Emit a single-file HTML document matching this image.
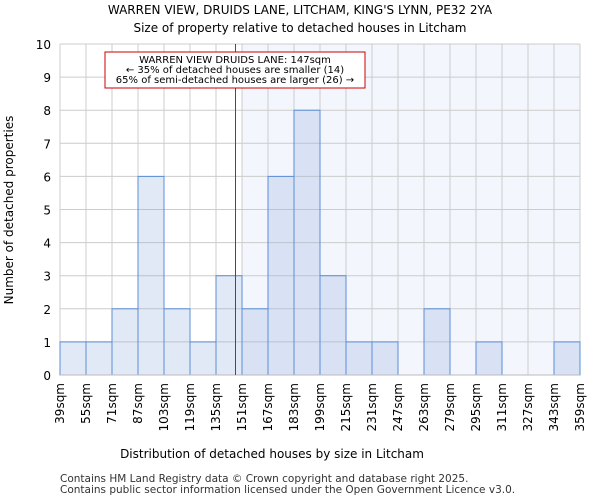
<!DOCTYPE html>
<html><head><meta charset="utf-8"><style>
body{margin:0;background:#fff;font-family:"DejaVu Sans","Liberation Sans",sans-serif}
</style></head><body>
<svg id="c" width="600" height="500" xmlns="http://www.w3.org/2000/svg" font-family="DejaVu Sans, Liberation Sans, sans-serif">
<text x="300" y="14" text-anchor="middle" font-size="12">WARREN VIEW, DRUIDS LANE, LITCHAM, KING'S LYNN, PE32 2YA</text>
<text x="300" y="32" text-anchor="middle" font-size="12">Size of property relative to detached houses in Litcham</text>
<g id="plot"></g>
<text x="272" y="458" text-anchor="middle" font-size="12">Distribution of detached houses by size in Litcham</text>
<text transform="translate(13,210) rotate(-90)" text-anchor="middle" font-size="12">Number of detached properties</text>
<text x="60" y="482" font-size="10.5" fill="#333">Contains HM Land Registry data © Crown copyright and database right 2025.</text>
<text x="60" y="493" font-size="10.5" fill="#333">Contains public sector information licensed under the Open Government Licence v3.0.</text>
</svg>
<script>
const binStarts=[39,55,71,87,103,119,135,151,167,183,199,215,231,247,263,279,295,311,327,343];
const counts=[1,1,2,6,2,1,3,2,6,8,3,1,1,0,2,0,1,0,0,1];
const yTicks=[0,1,2,3,4,5,6,7,8,9,10];
const xTickLabels=[39,55,71,87,103,119,135,151,167,183,199,215,231,247,263,279,295,311,327,343,359];
const propertySize=147;
const binWidth=16;
const ns="http://www.w3.org/2000/svg";
const L=60,R=580,T=44,B=375;
const xMin=39,xMax=359,yMax=10;
const X=v=>L+(v-xMin)/(xMax-xMin)*(R-L);
const Y=v=>B-v/yMax*(B-T);
const g=document.getElementById('plot');
function mk(t,a){const e=document.createElementNS(ns,t);for(const k in a)e.setAttribute(k,a[k]);g.appendChild(e);return e;}
let shadeStart=binStarts.find(s=>s>=propertySize);
let sh=mk('rect',{x:X(shadeStart),y:T,width:R-X(shadeStart),height:B-T,fill:'#f3f6fd'});


yTicks.forEach(t=>{const l=mk('line',{x1:L,x2:R,y1:Y(t),y2:Y(t),stroke:'#ccc','stroke-width':1});


const tx=mk('text',{x:L-9,y:Y(t)+5,'text-anchor':'end','font-size':12});tx.textContent=t;

});
xTickLabels.forEach(v=>{const l=mk('line',{x1:X(v),x2:X(v),y1:T,y2:B,stroke:'#ccc','stroke-width':1});


const tx=mk('text',{transform:`translate(${X(v)+4},${B+8}) rotate(-90)`,'text-anchor':'end','font-size':12});tx.textContent=v+'sqm';

});
binStarts.forEach((s,i)=>{if(!counts[i])return;
const r=mk('rect',{x:X(s),y:Y(counts[i]),width:X(s+binWidth)-X(s),height:B-Y(counts[i]),fill:'#8aa8dc','fill-opacity':0.25,stroke:'#5b8fd6','stroke-width':1});

});
const ax=mk('line',{x1:L,x2:R,y1:B,y2:B,stroke:'#bbb'});


const rl=mk('line',{x1:X(propertySize),x2:X(propertySize),y1:T,y2:B,stroke:'red','stroke-width':1});


const box=mk('rect',{x:105,y:52,width:260,height:36,fill:'#fff',stroke:'#cc0000','stroke-width':1});


['WARREN VIEW DRUIDS LANE: 147sqm','← 35% of detached houses are smaller (14)','65% of semi-detached houses are larger (26) →'].forEach((s,i)=>{
const t=mk('text',{x:235,y:63+i*10,'text-anchor':'middle','font-size':10});t.textContent=s;

});
</script>
</body></html>
